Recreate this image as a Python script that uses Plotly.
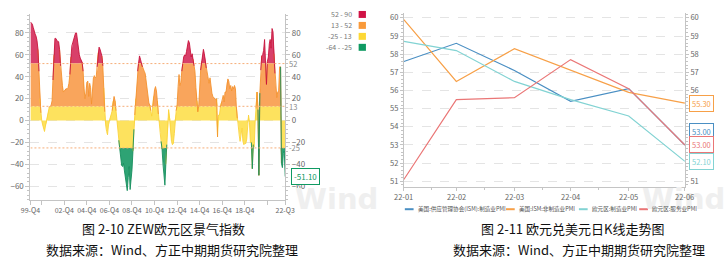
import pandas as pd
import plotly.graph_objects as go

W, H = 727, 265

# ---------------- Left chart: ZEW euro-area economic sentiment (monthly, 1999-12 .. 2022-07)
zew_values = [
    90, 89, 88, 85, 81, 79, 77, 73, 65, 45, 20, 7,
    0, -4, -8, -10, -5, -1, 5, 10, 12, 13, 14, 18,
    37, 60, 75, 75, 73, 72, 72, 65, 50, 40, 32, 26,
    27, 29, 29, 29, 30, 34, 42, 58, 68, 71, 74, 78,
    80, 80, 72, 63, 60, 57, 55, 53, 45, 29, 20, 25,
    35, 36, 22, 34, 30, 15, 33, 39, 41, 39, 40, 49,
    62, 67, 65, 62, 59, 50, 30, 8, -4, -10, -13, -4,
    1, 3, 6, 9, 18, 22, 18, 9, 0, -8,
    -18, -26, -36, -41, -42, -39, -46, -52, -60, -64, -52, -42,
    -63, -55, -45, -28, -8, 5, 20, 32, 45, 53, 59, 56,
    52, 49, 47, 45, 43, 37, 28, 24, 16, 14, 9, 4,
    12, 22, 28, 31, 27, 18, 6, -1, -11, -19, -26, -40,
    -52, -59, -40, -22, -4, 10, 2, -10, -19, -22, -21, -12,
    2, 9, 14, 31, 42, 32, 35, 45, 52, 58, 60, 59,
    63, 70, 73, 71, 65, 58, 61, 56, 50, 45, 30, 18,
    8, 14, 32,
    46, 54, 62, 65, 61, 54, 48, 42, 36, 34, 39, 31,
    25, 22, 21, 21, 19, 20, -15, 5, 5, 12, 16, 18,
    23, 17, 26, 26, 35, 38, 36, 29, 32, 27, 31, 29,
    32, 29, 13, 2, -2, -13, -19, -11, -7, -19, -22, -21,
    -21, -17, -3, 5, -2, -20, -20, -44, -22, -24, -1, 11,
    26, 10, -50, 25, 46, 59, 60, 64, 74, 52, 33, 54,
    58, 70, 74, 66, 84, 81, 61, 43, 31, 21, 26, 27,
    49, 49, -39, -43, -30, -28, -51.1,
]
zew_dates = pd.date_range("1999-12-01", periods=len(zew_values), freq="MS")

band_labels = ["52 - 90", "13 - 52", "-25 - 13", "-64 - -25"]
band_lo = [52, 13, -25, -64]
band_hi = [90, 52, 13, -25]
band_fill = ["#d8406a", "#f9a55c", "#fde25e", "#2ea374"]
band_line = ["#c8143c", "#f4922f", "#fbd33a", "#158f5e"]
band_swatch = ["#d01346", "#f99a3a", "#fdd835", "#0f9a62"]
threshold_vals = [52, 13, -25]

zew_tickvals = ["1999-12-01", "2000-12-01", "2002-12-01", "2004-12-01", "2006-12-01",
                "2008-12-01", "2010-12-01", "2012-12-01", "2014-12-01", "2016-12-01",
                "2018-12-01", "2020-12-01", "2022-07-01"]
zew_ticktext = ["99-Q4", "", "02-Q4", "04-Q4", "06-Q4", "08-Q4", "10-Q4", "12-Q4",
                "14-Q4", "16-Q4", "18-Q4", "", "22-Q3"]
zew_yticks = [-60, -40, -20, 0, 20, 40, 60, 80]

# ---------------- Right chart: PMIs 2022
pmi_dates = ["2022-01-31", "2022-02-28", "2022-03-31", "2022-04-30", "2022-05-31", "2022-06-30"]
pmi_minor = ["2022-02-15", "2022-03-15", "2022-04-15", "2022-05-15", "2022-06-15"]
ism_mfg = [57.6, 58.6, 57.1, 55.4, 56.1, 53.0]
ism_nonmfg = [59.9, 56.5, 58.3, 57.1, 55.9, 55.3]
ez_mfg = [58.7, 58.2, 56.5, 55.5, 54.6, 52.1]
ez_serv = [51.1, 55.5, 55.6, 57.7, 56.1, 53.0]
pmi_names = ["美国:供应管理协会(ISM):制造业PMI", "美国:ISM:非制造业PMI",
             "欧元区:制造业PMI", "欧元区:服务业PMI"]
pmi_colors = ["#4a8fc3", "#f7a048", "#82d3d3", "#ea7676"]
pmi_yticks = [51, 52, 53, 54, 55, 56, 57, 58, 59, 60]

captions_left = ["图 2-10 ZEW欧元区景气指数", "数据来源：Wind、方正中期期货研究院整理"]
captions_right = ["图 2-11 欧元兑美元日K线走势图", "数据来源：Wind、方正中期期货研究院整理"]

FONT = "Noto Sans CJK SC, Noto Sans, sans-serif"


def px(x):
    return x / W


def py(y):
    return 1 - y / H


fig = go.Figure()

# ---- banded area (filled from zero, coloured by value level)
n = len(zew_values)
nb = len(band_lo)
for k in range(nb):
    lo = band_lo[k] if k < nb - 1 else -1e9
    hi = band_hi[k] if k > 0 else 1e9
    parts = []
    if hi > max(lo, 0):
        parts.append((max(lo, 0), hi, max(lo, 0)))
    if min(hi, 0) > lo:
        parts.append((lo, min(hi, 0), min(hi, 0)))
    for a, b, base in parts:
        clipped = [min(max(v, a), b) for v in zew_values]
        fig.add_trace(go.Scatter(x=zew_dates, y=[base] * n, mode="lines", line=dict(width=0),
                                 hoverinfo="skip", showlegend=False, xaxis="x", yaxis="y"))
        fig.add_trace(go.Scatter(x=zew_dates, y=clipped, mode="lines", line=dict(width=0),
                                 fill="tonexty", fillcolor=band_fill[k],
                                 hoverinfo="skip", showlegend=False, xaxis="x", yaxis="y"))

# ---- edge line coloured per band (on overlay axis)
for k in [2, 1, 0, 3]:
    lo = band_lo[k] if k < nb - 1 else -1e9
    hi = band_hi[k] if k > 0 else 1e9
    inb = [lo <= v < hi for v in zew_values]
    yl = [v if (inb[i] or (i > 0 and inb[i - 1]) or (i < n - 1 and inb[i + 1])) else None
          for i, v in enumerate(zew_values)]
    fig.add_trace(go.Scatter(x=zew_dates, y=yl, mode="lines", line=dict(width=0.9, color=band_line[k]),
                             connectgaps=False, hoverinfo="skip", showlegend=False,
                             xaxis="x", yaxis="y2"))

# ---- PMI lines
pmi_series = [ism_mfg, ism_nonmfg, ez_mfg, ez_serv]
for j, s in enumerate(pmi_series):
    fig.add_trace(go.Scatter(x=pmi_dates, y=s, mode="lines", name=pmi_names[j],
                             line=dict(width=1.2, color=pmi_colors[j]),
                             showlegend=False, xaxis="x2", yaxis="y3" if j < 2 else "y4"))

# ---- axes
ZR = [-72.3, 97.3]
PR = [50.67, 60.27]
axis_col = "#c4c4c4"
tick_font = dict(family=FONT, size=8, color="#666")
tick_font_x = dict(family=FONT, size=7, color="#666")
tick_font_r = dict(family=FONT, size=7.5, color="#666")

layout = dict(
    width=W, height=H, margin=dict(l=0, r=0, t=0, b=0), autosize=False,
    paper_bgcolor="white", plot_bgcolor="white", showlegend=False,
    font=dict(family=FONT),
    xaxis=dict(domain=[px(21), px(283)], anchor="y", type="date",
               range=[zew_dates[0], zew_dates[-1]],
               tickmode="array", tickvals=zew_tickvals, ticktext=zew_ticktext, tickangle=0,
               ticks="outside", ticklen=4, tickcolor=axis_col, showline=True, linecolor=axis_col,
               showgrid=False, zeroline=False, tickfont=tick_font_x),
    yaxis=dict(domain=[py(199.5), py(13)], anchor="x", range=ZR,
               tickmode="array", tickvals=zew_yticks, ticks="outside", ticklen=4,
               tickcolor=axis_col, showline=True, linecolor=axis_col,
               showgrid=True, gridcolor="#e4e4e4", griddash="dash", gridwidth=0.8,
               zeroline=False, tickfont=tick_font,
               minor=dict(dtick=4, ticks="outside", ticklen=2, tickcolor=axis_col, showgrid=False)),
    yaxis2=dict(overlaying="y", side="right", anchor="x", range=ZR,
                tickmode="array", tickvals=zew_yticks, ticks="outside", ticklen=4,
                tickcolor=axis_col, showline=True, linecolor=axis_col,
                showgrid=False, zeroline=False, tickfont=tick_font,
                minor=dict(dtick=4, ticks="outside", ticklen=2, tickcolor=axis_col, showgrid=False)),
    xaxis2=dict(domain=[px(405), px(694)], anchor="y3", type="date",
                range=[pmi_dates[0], pmi_dates[-1]],
                tickmode="array", tickvals=pmi_dates, showticklabels=False,
                ticks="outside", ticklen=3, tickcolor=axis_col, showline=True, linecolor=axis_col,
                showgrid=False, zeroline=False,
                minor=dict(tickvals=pmi_minor, ticks="outside", ticklen=2, tickcolor=axis_col,
                           showgrid=False)),
    yaxis3=dict(domain=[py(187), py(12)], anchor="x2", range=PR,
                tickmode="array", tickvals=pmi_yticks, ticks="outside", ticklen=3,
                tickcolor=axis_col, showline=True, linecolor=axis_col,
                showgrid=True, gridcolor="#e4e4e4", griddash="dash", gridwidth=0.8,
                zeroline=False, tickfont=tick_font_r,
                minor=dict(dtick=0.2, ticks="outside", ticklen=2, tickcolor=axis_col, showgrid=False)),
    yaxis4=dict(overlaying="y3", side="right", anchor="x2", range=PR,
                tickmode="array", tickvals=pmi_yticks, ticks="outside", ticklen=3,
                tickcolor=axis_col, showline=True, linecolor=axis_col,
                showgrid=False, zeroline=False, tickfont=tick_font_r,
                minor=dict(dtick=0.2, ticks="outside", ticklen=2, tickcolor=axis_col, showgrid=False)),
)
fig.update_layout(**layout)

shapes = []
annotations = []

# watermarks first so that every later text is drawn over them
for xc, yc in [(336, 199), (693, 199)]:
    annotations.append(dict(xref="paper", yref="paper", x=px(xc), y=py(yc), text="<b>Wind</b>",
                            showarrow=False, xanchor="center", yanchor="middle",
                            font=dict(family="DejaVu Sans", size=29, color="#efefef")))

# right chart x tick labels (drawn as text so they sit above the watermark)
for d in pmi_dates:
    annotations.append(dict(xref="x2", yref="paper", x=d, y=py(196),
                            text=pd.Timestamp(d).strftime("%y-%m"), showarrow=False,
                            xanchor="center", yanchor="middle", font=tick_font_r))

# threshold mark lines
for t in threshold_vals:
    shapes.append(dict(type="line", xref="x", yref="y", x0=zew_dates[0], x1=zew_dates[-1],
                       y0=t, y1=t, line=dict(color="#f6ad78", width=1, dash="2px,2px"),
                       layer="above"))
    annotations.append(dict(xref="paper", yref="y", x=px(285), y=t, text=str(t),
                            showarrow=False, xanchor="left", yanchor="middle",
                            font=dict(family=FONT, size=7.5, color="#888")))

# last value callout (left chart)
annotations.append(dict(xref="x", yref="y", x=zew_dates[-1], y=zew_values[-1],
                        text=f"{zew_values[-1]:.2f}", showarrow=False, xanchor="left",
                        yanchor="middle", xshift=6, bgcolor="white", bordercolor=band_swatch[3],
                        borderwidth=1, borderpad=2,
                        font=dict(family=FONT, size=8, color=band_swatch[3])))

# left legend (visual map pieces)
for k in range(nb):
    yc = 13.5 + 11 * k
    shapes.append(dict(type="rect", xref="paper", yref="paper", x0=px(358.5), x1=px(366),
                       y0=py(yc + 3.5), y1=py(yc - 3.5), fillcolor=band_swatch[k],
                       line=dict(width=0), layer="above"))
    annotations.append(dict(xref="paper", yref="paper", x=px(353.5), y=py(yc), text=band_labels[k],
                            showarrow=False, xanchor="right", yanchor="middle",
                            font=dict(family=FONT, size=7, color="#777")))

# right chart end labels
yshifts = [13, 0, 0, 0]
for j, s in enumerate(pmi_series):
    annotations.append(dict(xref="x2", yref="y3", x=pmi_dates[-1], y=s[-1],
                            text=f"{s[-1]:.2f}", showarrow=False, xanchor="left", yanchor="middle",
                            xshift=4, yshift=yshifts[j], bgcolor="white",
                            bordercolor=pmi_colors[j], borderwidth=1, borderpad=2,
                            font=dict(family=FONT, size=7.5, color=pmi_colors[j])))

# right chart legend
leg_sym = [(406, 415), (510, 519), (585, 594), (647, 656)]
for j in range(4):
    x0, x1 = leg_sym[j]
    shapes.append(dict(type="line", xref="paper", yref="paper", x0=px(x0), x1=px(x1),
                       y0=py(209), y1=py(209), line=dict(color=pmi_colors[j], width=2)))
    annotations.append(dict(xref="paper", yref="paper", x=px(x1 + 2), y=py(209), text=pmi_names[j],
                            showarrow=False, xanchor="left", yanchor="middle",
                            font=dict(family=FONT, size=5.6, color="#555")))

# captions
for cx, cy, txt in [(157.5, 228, captions_left[0]), (167, 249, captions_left[1]),
                    (578.5, 228, captions_right[0]), (585, 249, captions_right[1])]:
    annotations.append(dict(xref="paper", yref="paper", x=px(cx), y=py(cy), text=txt,
                            showarrow=False, xanchor="center", yanchor="middle",
                            font=dict(family=FONT, size=13, color="#111")))

fig.update_layout(shapes=shapes, annotations=annotations)
fig.write_html("out.html")
